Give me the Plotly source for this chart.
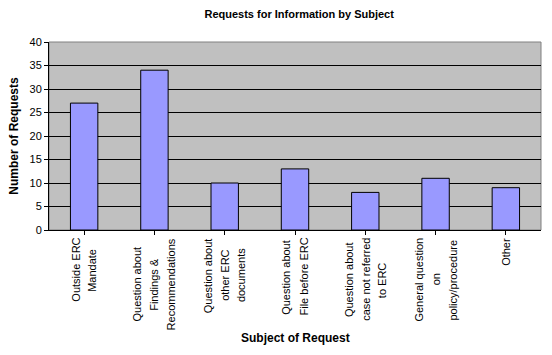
import plotly.graph_objects as go

categories = ["Outside ERC<br>Mandate",
              "Question about<br>Findings &<br>Recommendations",
              "Question about<br>other ERC<br>documents",
              "Question about<br>File before ERC",
              "Question about<br>case not referred<br>to ERC",
              "General question<br>on<br>policy/procedure",
              "Other"]
values = [27, 34, 10, 13, 8, 11, 9]
y_ticks = [0, 5, 10, 15, 20, 25, 30, 35, 40]

FONT = "Liberation Sans, Arial, sans-serif"
FS = 11
LINE_GAP = 17

# Arial / Liberation Sans advance widths (per 1000 em) for centring rotated lines
_W = {' ': 278, 'a': 556, 'b': 556, 'c': 500, 'd': 556, 'e': 556, 'f': 278,
      'g': 556, 'h': 556, 'i': 222, 'j': 222, 'k': 500, 'l': 222, 'm': 833,
      'n': 556, 'o': 556, 'p': 556, 'q': 556, 'r': 333, 's': 500, 't': 278,
      'u': 556, 'v': 500, 'w': 722, 'x': 500, 'y': 500, 'z': 500,
      'A': 667, 'C': 722, 'E': 667, 'F': 611, 'G': 778, 'M': 833, 'O': 778,
      'Q': 778, 'R': 722, '&': 667, '/': 278}


def text_w(s):
    return sum(_W.get(c, 556) for c in s) * FS / 1000.0


fig = go.Figure()
fig.add_trace(go.Bar(
    x=list(range(len(categories))), y=values,
    marker=dict(color="#9999FF", line=dict(color="black", width=1)),
    width=0.39,
))

for i, lab in enumerate(categories):
    lines = lab.split("<br>")
    n = len(lines)
    maxw = max(text_w(l) for l in lines)
    for j, ln in enumerate(lines):
        fig.add_annotation(x=i, xref="x", y=0, yref="paper",
                           yshift=-6 - (maxw - text_w(ln)) / 2,
                           xshift=(j - (n - 1) / 2) * LINE_GAP,
                           text=ln, textangle=-90, showarrow=False,
                           xanchor="center", yanchor="top", align="center",
                           font=dict(family=FONT, size=FS, color="black"))

plot_h = 355 - 42 - 125
fig.add_annotation(x=0.5, xref="paper", y=(230 - 338) / plot_h, yref="paper",
                   text="<b>Subject of Request</b>", showarrow=False,
                   xanchor="center", yanchor="middle",
                   font=dict(family=FONT, size=12, color="black"))

fig.update_layout(
    width=552, height=355,
    margin=dict(l=49, r=11, t=42, b=125),
    paper_bgcolor="white", plot_bgcolor="#C0C0C0",
    showlegend=False,
    font=dict(family=FONT, size=11, color="black"),
    title=dict(text="<b>Requests for Information by Subject</b>",
               x=0.542, xanchor="center", y=0.96, yanchor="middle",
               font=dict(family=FONT, size=11)),
    bargap=0.6,
)

fig.update_xaxes(
    range=[-0.5, len(categories) - 0.5],
    tickvals=list(range(len(categories))),
    tickson="boundaries", ticks="outside", ticklen=4, tickcolor="black",
    showticklabels=False, showgrid=False,
    showline=True, linecolor="black", linewidth=1, mirror=False,
)
fig.update_yaxes(
    range=[0, 40], tickvals=y_ticks,
    ticks="outside", ticklen=4, tickcolor="black",
    showgrid=True, gridcolor="black", gridwidth=1,
    showline=True, linecolor="black", linewidth=1,
    zeroline=False,
    tickfont=dict(family=FONT, size=11),
    title=dict(text="<b>Number of Requests</b>", standoff=8,
               font=dict(family=FONT, size=12)),
)
fig.add_shape(type="rect", xref="paper", yref="paper", x0=0, y0=0, x1=1, y1=1,
              line=dict(color="#808080", width=1), layer="below")

fig.write_html("out.html")
